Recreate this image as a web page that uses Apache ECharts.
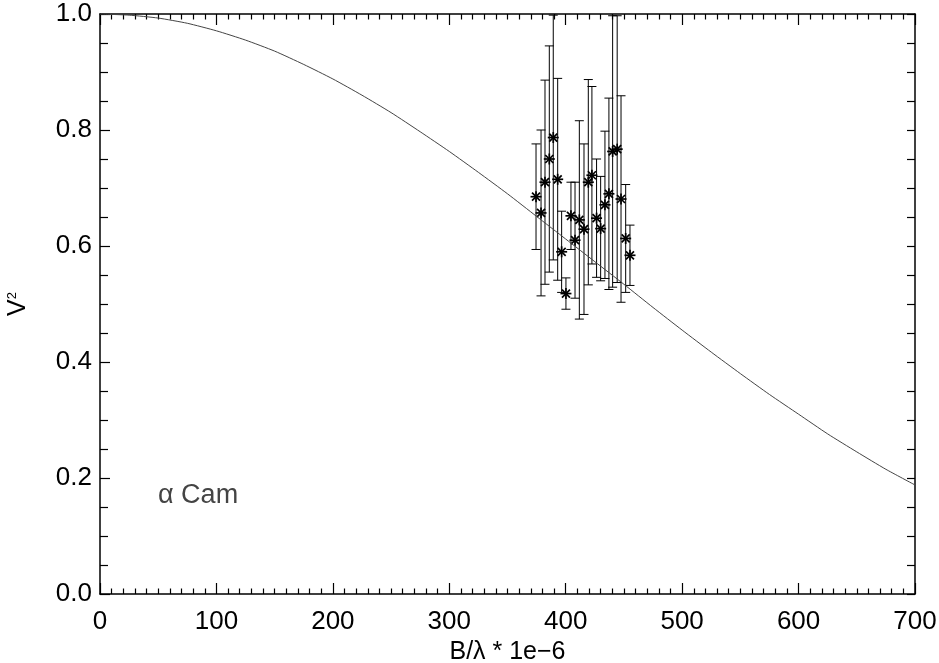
<!DOCTYPE html>
<html><head><meta charset="utf-8">
<script src="https://cdn.jsdelivr.net/npm/echarts@6/dist/echarts.min.js"></script>
<style>html,body{margin:0;padding:0;background:#fff}#c{width:939px;height:663px}</style>
</head><body><div id="c"></div>
<script>
// Measured data: baseline (B/lambda * 1e-6), squared visibility and its error
const baseline = [374.5,378.8,382.2,385.9,389.3,393.1,396.5,400.2,404.5,408.0,411.7,415.7,419.4,422.5,426.5,430.0,433.7,437.1,440.3,444.2,447.5,451.5,455.2];
const vis2     = [0.685,0.657,0.710,0.750,0.787,0.715,0.590,0.518,0.652,0.610,0.645,0.629,0.710,0.722,0.648,0.630,0.671,0.690,0.763,0.767,0.681,0.613,0.584];
const vis2Err  = [0.091,0.143,0.176,0.195,0.211,0.174,0.070,0.027,0.058,0.100,0.171,0.147,0.177,0.153,0.102,0.090,0.127,0.165,0.234,0.230,0.178,0.093,0.052];
// Model curve
const modelX  = [0,25,50,75,100,125,150,175,200,225,250,275,300,325,350,375,400,425,450,475,500,525,550,575,600,625,650,675,700];
const modelV2 = [1.000,0.998,0.993,0.984,0.971,0.955,0.936,0.913,0.888,0.860,0.830,0.797,0.763,0.727,0.690,0.651,0.612,0.573,0.534,0.494,0.455,0.417,0.380,0.344,0.310,0.276,0.245,0.215,0.188];
// Axis settings
const xMin = 0, xMax = 700, xStep = 100;
const yMin = 0, yMax = 1, yStep = 0.2;
const xTitle = 'B/λ * 1e−6';
const yTitle = '{v|V}{s|2}';
const starName = 'α Cam';

const FONT = 'Liberation Sans, Arial, Helvetica, sans-serif';
const black = '#000';
const chart = echarts.init(document.getElementById('c'), null, {renderer: 'canvas'});

function xAxisCfg(pos, show) {
  return {
    type: 'value', position: pos, min: xMin, max: xMax, interval: xStep,
    axisLine: {show: true, onZero: false, lineStyle: {color: black, width: 1.5}},
    axisTick: {show: true, inside: true, length: 11, lineStyle: {color: black, width: 1.2}},
    minorTick: {show: true, splitNumber: 10, length: 5.5, lineStyle: {color: black, width: 1.2}},
    splitLine: {show: false}, minorSplitLine: {show: false},
    axisLabel: {show: show, fontSize: 26, color: black, margin: 15, fontFamily: FONT},
    name: show ? xTitle : '', nameLocation: 'middle', nameGap: 42,
    nameTextStyle: {fontSize: 25, color: black, fontFamily: FONT}
  };
}
function yAxisCfg(pos, show) {
  return {
    type: 'value', position: pos, min: yMin, max: yMax, interval: yStep,
    axisLine: {show: true, onZero: false, lineStyle: {color: black, width: 1.5}},
    axisTick: {show: true, inside: true, length: show ? 10 : 8, lineStyle: {color: black, width: 1.2}},
    minorTick: {show: true, splitNumber: 4, length: 8, lineStyle: {color: black, width: 1.2}},
    splitLine: {show: false}, minorSplitLine: {show: false},
    axisLabel: {show: show, fontSize: 26, color: black, margin: 8, fontFamily: FONT,
      formatter: v => v.toFixed(1)},
    name: show ? yTitle : '', nameLocation: 'middle', nameGap: 69,
    nameTextStyle: {fontSize: 25, color: black, fontFamily: FONT,
      rich: {v: {fontSize: 25, fontFamily: FONT, color: black},
             s: {fontSize: 13, fontFamily: FONT, color: black, verticalAlign: 'top', padding: [0, 0, 8, 0]}}}
  };
}

const option = {
  backgroundColor: '#fff',
  animation: false,
  grid: {left: 100, right: 24, top: 14, bottom: 69, containLabel: false, outerBoundsMode: 'none'},
  xAxis: [xAxisCfg('bottom', true), xAxisCfg('top', false)],
  yAxis: [yAxisCfg('left', true), yAxisCfg('right', false)],
  graphic: [{
    type: 'text', left: 158, top: 482,
    style: {text: starName, fontSize: 27, fill: '#444', fontFamily: FONT}
  }],
  series: [
    {
      type: 'line', xAxisIndex: 0, yAxisIndex: 0,
      data: modelX.map((x, i) => [x, modelV2[i]]),
      smooth: 0.2, showSymbol: false, symbol: 'none',
      lineStyle: {color: '#444', width: 1}, clip: true
    },
    {
      type: 'custom', xAxisIndex: 0, yAxisIndex: 0, clip: true,
      data: baseline.map((b, i) => [b, vis2[i], vis2Err[i]]),
      renderItem: function (params, api) {
        const x = api.value(0), y = api.value(1), e = api.value(2);
        const c = api.coord([x, y]);
        const t = api.coord([x, y + e]);
        const b = api.coord([x, y - e]);
        const cw = 4.5, s = 5.5, d = 4;
        const st = {stroke: black, lineWidth: 1};
        const ss = {stroke: black, lineWidth: 1.7};
        return {type: 'group', children: [
          {type: 'line', shape: {x1: c[0], y1: t[1], x2: c[0], y2: b[1]}, style: st},
          {type: 'line', shape: {x1: c[0] - cw, y1: t[1], x2: c[0] + cw, y2: t[1]}, style: st},
          {type: 'line', shape: {x1: c[0] - cw, y1: b[1], x2: c[0] + cw, y2: b[1]}, style: st},
          {type: 'line', shape: {x1: c[0] - s, y1: c[1], x2: c[0] + s, y2: c[1]}, style: ss},
          {type: 'line', shape: {x1: c[0], y1: c[1] - s, x2: c[0], y2: c[1] + s}, style: ss},
          {type: 'line', shape: {x1: c[0] - d, y1: c[1] - d, x2: c[0] + d, y2: c[1] + d}, style: ss},
          {type: 'line', shape: {x1: c[0] - d, y1: c[1] + d, x2: c[0] + d, y2: c[1] - d}, style: ss}
        ]};
      }
    }
  ]
};
chart.setOption(option);
</script>
</body></html>
